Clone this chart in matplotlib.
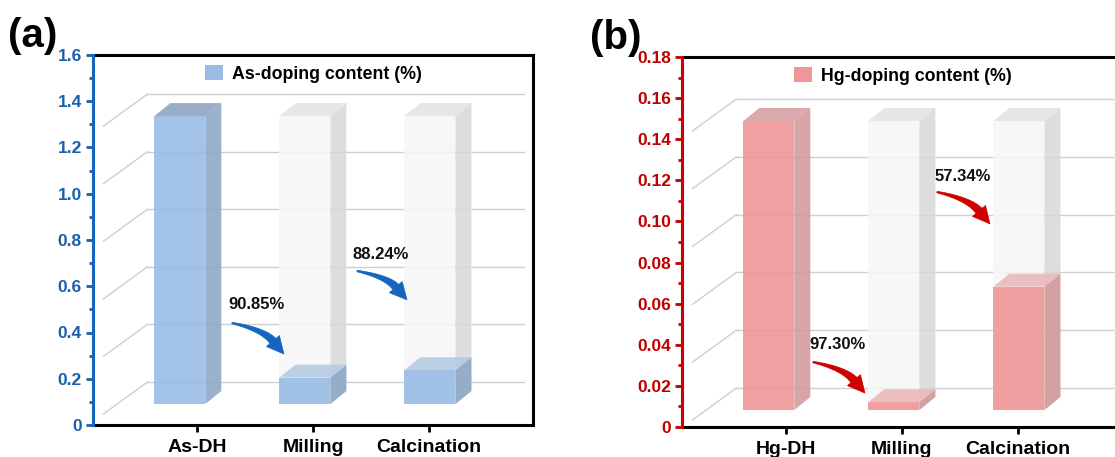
import matplotlib.pyplot as plt
import numpy as np
from matplotlib.patches import Polygon, Patch
from matplotlib.ticker import MultipleLocator, FuncFormatter

plt.rcParams['font.family'] = ['Liberation Sans', 'DejaVu Sans']
plt.rcParams['font.weight'] = 'bold'

# doping content (%) after each processing stage
as_stages = ['As-DH', 'Milling', 'Calcination']
as_content = [1.245, 0.114, 0.146]
as_drops = ['90.85%', '88.24%']

hg_stages = ['Hg-DH', 'Milling', 'Calcination']
hg_content = [0.1406, 0.0038, 0.060]
hg_drops = ['97.30%', '57.34%']

W_PX, H_PX = 440, 370          # axes size in pixels
XLIM = (-0.9, 2.9)
BAR_W = 0.44
BAR_STEP = 1.08
BAR_SHIFT = -0.15


def px_x(p):
    return p * (XLIM[1] - XLIM[0]) / W_PX


def px_y(p, ymax):
    return p * ymax / H_PX


def box(ax, x0, y0, h, dx, dy, front, side, top, alpha, z):
    w = BAR_W
    faces = [
        ([(x0, y0), (x0 + w, y0), (x0 + w, y0 + h), (x0, y0 + h)], front),
        ([(x0 + w, y0), (x0 + w + dx, y0 + dy), (x0 + w + dx, y0 + h + dy),
          (x0 + w, y0 + h)], side),
        ([(x0, y0 + h), (x0 + dx, y0 + h + dy), (x0 + w + dx, y0 + h + dy),
          (x0 + w, y0 + h)], top),
    ]
    for pts, c in faces:
        ax.add_patch(Polygon(pts, closed=True, facecolor=c, edgecolor='none',
                             alpha=alpha, zorder=z))


def curved_arrow(ax, tail, head, ymax, color, bend=0.17,
                 w0=1.5, w1=8.0, head_len=17.0, head_w=17.0):
    # tapered, bent arrow built in pixel space, mapped back to data units
    sx = W_PX / (XLIM[1] - XLIM[0])
    sy = H_PX / ymax
    T = np.array([(tail[0] - XLIM[0]) * sx, tail[1] * sy])
    H = np.array([(head[0] - XLIM[0]) * sx, head[1] * sy])
    d = H - T
    L = np.hypot(*d)
    u = d / L
    n = np.array([-u[1], u[0]])
    C = (T + H) / 2 + bend * L * n
    te = (H - C) / np.hypot(*(H - C))
    B = H - head_len * te
    t = np.linspace(0, 1, 40)[:, None]
    P = (1 - t) ** 2 * T + 2 * (1 - t) * t * C + t ** 2 * B
    D = 2 * (1 - t) * (C - T) + 2 * t * (B - C)
    D = D / np.hypot(D[:, 0], D[:, 1])[:, None]
    N = np.column_stack([-D[:, 1], D[:, 0]])
    w = (w0 + (w1 - w0) * t) / 2
    left = P + N * w
    right = P - N * w
    ne = np.array([-te[1], te[0]])
    tip = [B + ne * head_w / 2, H, B - ne * head_w / 2]
    pts = np.vstack([left, tip, right[::-1]])
    pts[:, 0] = pts[:, 0] / sx + XLIM[0]
    pts[:, 1] = pts[:, 1] / sy
    ax.add_patch(Polygon(pts, closed=True, facecolor=color, edgecolor=color,
                         lw=0.5, zorder=6))


def panel(ax, letter, letter_x, stages, values, ymax, major, fmt, axis_color,
          label_color, colors, legend_label, floor_px, drops, arrows):
    ax.set_xlim(*XLIM)
    ax.set_ylim(0, ymax)
    dx = px_x(16)
    dy = px_y(13, ymax)
    floor = px_y(floor_px, ymax)

    # back wall and floor guide lines of the pseudo-3D scene
    back = floor + px_y(22, ymax)
    for lvl in np.linspace(0, values[0], 6):
        y = back + lvl
        ax.plot([-0.43, 2.82], [y, y], color='#cfcfcf', lw=1.0, zorder=1)
        ax.plot([-0.81, -0.43], [y - px_y(32, ymax), y], color='#cfcfcf',
                lw=1.0, zorder=1)

    front, side, top, top_low = colors
    for i, v in enumerate(values):
        x0 = BAR_SHIFT + BAR_STEP * i - BAR_W / 2
        if i > 0:
            box(ax, x0, floor, values[0], dx, dy, '#f6f6f6', '#d8d8d8',
                '#e2e2e2', 0.85, 2)
            box(ax, x0, floor, v, dx, dy, front, side, top_low, 0.9, 3)
        else:
            box(ax, x0, floor, v, dx, dy, front, side, top, 0.9, 3)

    for txt, (tx, ty), tail, head in zip(drops, *arrows):
        ax.text(tx, ty, txt, ha='center', va='center', fontsize=12,
                fontweight='bold', color='#111111', zorder=6)
        curved_arrow(ax, tail, head, ymax, axis_color)

    ax.legend(handles=[Patch(facecolor=front, edgecolor='none')],
              labels=[legend_label], loc='upper left',
              bbox_to_anchor=(0.2545, 0.972), frameon=False, borderpad=0,
              borderaxespad=0, handlelength=1.0, handleheight=0.9,
              handletextpad=0.55, prop={'size': 12.75, 'weight': 'bold'})

    ax.set_xticks(range(len(stages)))
    ax.set_xticklabels(stages, fontsize=14, fontweight='bold')
    ax.yaxis.set_major_locator(MultipleLocator(major))
    ax.yaxis.set_minor_locator(MultipleLocator(major / 2))
    ax.yaxis.set_major_formatter(FuncFormatter(
        lambda v, p: '0' if abs(v) < 1e-9 else fmt.format(v)))
    ax.tick_params(axis='x', direction='out', length=5, width=2, pad=5,
                   color='black')
    ax.tick_params(axis='y', which='major', direction='out', length=5,
                   width=2, pad=3, colors=label_color, labelsize=12.5)
    ax.tick_params(axis='y', which='minor', direction='out', length=3,
                   width=2, colors=axis_color)
    for lab in ax.get_yticklabels():
        lab.set_fontweight('bold')
    for s in ['top', 'right', 'bottom']:
        ax.spines[s].set_linewidth(2.2)
        ax.spines[s].set_color('black')
    ax.spines['left'].set_linewidth(2.2)
    ax.spines['left'].set_color(axis_color)
    ax.spines['left'].set_zorder(5)

    ax.text(letter_x, 1.0, letter, transform=ax.transAxes, fontsize=29,
            fontweight='bold', ha='left', va='bottom')


fig = plt.figure(figsize=(11.15, 4.57), dpi=100)
ax1 = fig.add_axes([93 / 1115, 1 - 425 / 457, W_PX / 1115, H_PX / 457])
ax2 = fig.add_axes([682 / 1115, 1 - 427 / 457, W_PX / 1115, H_PX / 457])

panel(ax1, '(a)', -0.194, as_stages, as_content, 1.6, 0.2, '{:.1f}',
      '#1565c0', '#1a5fb0', ('#98bce5', '#8fa8c8', '#8fa5c3', '#b6cbe4'),
      'As-doping content (%)', 21, as_drops,
      ([(0.516, 0.519), (1.587, 0.739)],
       [(0.300, 0.441), (1.380, 0.666)],
       [(0.749, 0.307), (1.812, 0.541)]))

panel(ax2, '(b)', -0.21, hg_stages, hg_content, 0.18, 0.02, '{:.2f}',
      '#d00000', '#c00000', ('#f09698', '#d49b9d', '#d6a0a2', '#eab9ba'),
      'Hg-doping content (%)', 17, hg_drops,
      ([(0.447, 0.0399), (1.527, 0.1221)],
       [(0.231, 0.0316), (1.302, 0.1143)],
       [(0.680, 0.0165), (1.760, 0.0988)]))

fig.savefig('out.png', dpi=100)
